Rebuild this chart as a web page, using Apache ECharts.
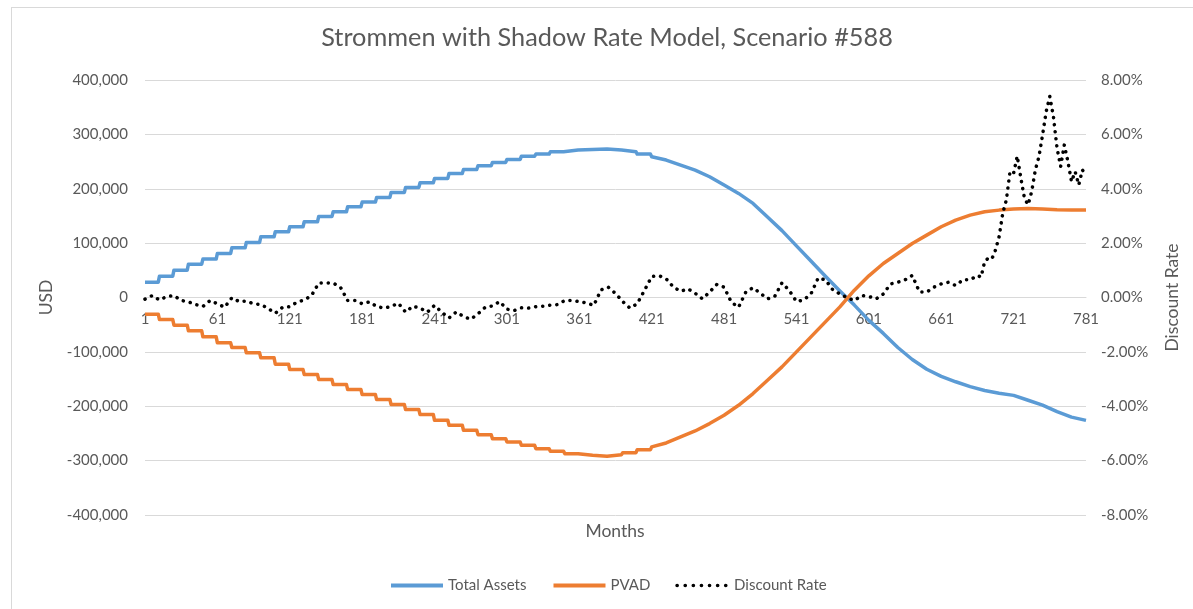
<!DOCTYPE html>
<html>
<head>
<meta charset="utf-8">
<title>Strommen with Shadow Rate Model, Scenario #588</title>
<script src="https://cdn.jsdelivr.net/npm/echarts@6/dist/echarts.min.js"></script>
<style>
  html, body { margin: 0; padding: 0; background: #fff; overflow: hidden; }
  #frame { position: absolute; left: 11px; top: 7px; width: 1300px; height: 700px;
           border-left: 1px solid #d9d9d9; border-top: 1px solid #d9d9d9; }
  #main { position: absolute; left: 0; top: 0; width: 1193px; height: 609px; }
</style>
</head>
<body>
<div id="frame"></div>
<div id="main"></div>
<script>
// month categories 1..781
var months = [];
for (var m = 1; m <= 781; m++) months.push(String(m));

// yearly levels while the contributions come in steps (months 12k+1 .. 12k+12)
var assetSteps = [28200, 39300, 50300, 61300, 70600, 81000, 91400, 101200, 111700, 120900,
  130100, 139300, 149100, 157700, 166900, 175500, 184000, 193300, 202500, 211000,
  219000, 228000, 235500, 242300, 248400, 253900, 260000, 263700, 268000, 271100,
  272300, 272900, 271100, 268000, 263700];
var pvadSteps = [-30700, -40500, -50900, -61300, -72400, -83400, -92000, -101800, -111000, -122700,
  -132500, -141700, -150900, -160100, -169300, -178500, -187700, -196900, -206100, -215300,
  -225800, -235000, -244200, -252200, -259600, -265700, -271800, -278000, -282900, -287200,
  -290200, -292100, -289000, -285300, -279800];

// from month 421 on, one reading every 12 months (421, 433, ... 781)
var assetTail = [258900, 252800, 243600, 234400, 222100, 206700, 191400, 173000, 148000, 123000,
  95000, 67000, 39000, 12000, -14000, -42000, -66000, -92000, -114000, -132000,
  -145000, -155000, -164000, -171000, -176000, -180000, -189000, -198000, -210000, -220000,
  -226000];
var pvadTail = [-274800, -267500, -256400, -245400, -231900, -216600, -198200, -176700, -152100, -127600,
  -100000, -72400, -44800, -17200, 13500, 39900, 62600, 81000, 99400, 114700,
  130100, 142300, 151500, 157700, 160700, 162600, 163800, 162600, 161300, 160700,
  160700];

// discount rate in %, months 1, 7, 13 ... 691
var rateEarly = [-0.06, 0.07, -0.09, 0.03, 0.07, -0.11, -0.16, -0.26, -0.33, -0.11,
  -0.23, -0.36, -0.01, -0.15, -0.13, -0.23, -0.26, -0.40, -0.58, -0.36,
  -0.34, -0.17, -0.09, 0.07, 0.53, 0.54, 0.53, 0.38, -0.11, -0.11,
  -0.23, -0.16, -0.33, -0.39, -0.33, -0.21, -0.54, -0.32, -0.39, -0.54,
  -0.29, -0.54, -0.75, -0.53, -0.70, -0.80, -0.60, -0.36, -0.31, -0.15,
  -0.43, -0.48, -0.38, -0.39, -0.34, -0.32, -0.28, -0.26, -0.11, -0.11,
  -0.15, -0.20, -0.29, 0.28, 0.38, 0.15, -0.15, -0.39, -0.23, 0.26,
  0.77, 0.80, 0.69, 0.38, 0.23, 0.32, 0.16, -0.05, 0.20, 0.48,
  0.38, -0.17, -0.36, 0.20, 0.36, 0.16, -0.05, 0.04, 0.54, 0.26,
  -0.15, -0.09, 0.13, 0.72, 0.65, 0.29, 0.13, -0.01, -0.11, 0.07,
  0.04, -0.05, 0.13, 0.50, 0.56, 0.65, 0.81, 0.20, 0.20, 0.38,
  0.50, 0.56, 0.44, 0.65, 0.65, 0.81];
// months 694, 697 ... 781 (the noisy end)
var rateLate = [0.75, 1.32, 1.45, 1.42, 1.75, 2.24, 3.10, 3.59, 4.63, 4.57,
  5.20, 4.39, 3.65, 3.41, 3.90, 4.69, 5.18, 5.98, 6.84, 7.39,
  6.65, 5.49, 4.82, 5.61, 5.00, 4.26, 4.63, 4.14, 4.69, 4.51];

// [category index, value]; index = month - 1
function stepped(steps, tail) {
  var pts = [];
  steps.forEach(function (v, k) {
    pts.push([12 * k, v], [12 * k + 11, v]);
  });
  tail.forEach(function (v, i) {
    pts.push([420 + 12 * i, v]);
  });
  return pts;
}

var ratePts = [];
rateEarly.forEach(function (v, i) { ratePts.push([6 * i, v]); });
rateLate.forEach(function (v, i) { ratePts.push([693 + 3 * i, v]); });

var grey = '#595959';
var font = 'Lato';

var myChart = echarts.init(document.getElementById('main'));

var option = {
  animation: false,
  textStyle: { fontFamily: font },
  title: [
    {
      text: 'Strommen with Shadow Rate Model, Scenario #588',
      left: 602,
      top: 20,
      textAlign: 'center',
      textStyle: { color: grey, fontSize: 25.3, fontWeight: 'normal', fontFamily: font }
    },
    {
      text: 'Months',
      left: 610,
      top: 517,
      textAlign: 'center',
      textStyle: { color: grey, fontSize: 17.5, fontWeight: 'normal', fontFamily: font }
    }
  ],
  legend: {
    left: 384,
    top: 573,
    itemWidth: 52,
    itemHeight: 14,
    itemGap: 25,
    itemStyle: { opacity: 0 },
    lineStyle: { width: 4 },
    textStyle: { color: grey, fontSize: 15, fontFamily: font },
    data: [
      'Total Assets',
      'PVAD',
      { name: 'Discount Rate', lineStyle: { width: 3.6, type: [0.1, 8] } }
    ]
  },
  grid: {
    left: 145,
    right: 107,
    top: 80,
    bottom: 94
  },
  xAxis: {
    type: 'category',
    data: months,
    boundaryGap: false,
    // axis sits on the zero line of the USD axis
    offset: -217.5,
    axisLine: { onZero: false, lineStyle: { color: '#d9d9d9', width: 1 } },
    axisTick: { show: false },
    axisLabel: { interval: 59, color: grey, fontSize: 15, margin: 14, fontFamily: font },
    splitLine: { show: false }
  },
  yAxis: [
    {
      type: 'value',
      min: -400000,
      max: 400000,
      interval: 100000,
      name: 'USD',
      nameLocation: 'middle',
      nameRotate: 90,
      nameGap: 90,
      nameTextStyle: { color: grey, fontSize: 17.5, fontFamily: font },
      axisLine: { show: false },
      axisTick: { show: false },
      axisLabel: {
        color: grey, fontSize: 15, margin: 17, fontFamily: font,
        formatter: function (v) { return v.toLocaleString('en-US'); }
      },
      splitLine: { lineStyle: { color: '#d9d9d9', width: 1 } }
    },
    {
      type: 'value',
      min: -8,
      max: 8,
      interval: 2,
      name: 'Discount Rate',
      nameLocation: 'middle',
      nameRotate: 90,
      nameGap: 77,
      nameTextStyle: { color: grey, fontSize: 17.5, fontFamily: font },
      axisLine: { show: false },
      axisTick: { show: false },
      axisLabel: {
        color: grey, fontSize: 15, margin: 15, fontFamily: font,
        formatter: function (v) { return v.toFixed(2) + '%'; }
      },
      splitLine: { show: false }
    }
  ],
  series: [
    {
      name: 'Total Assets',
      type: 'line',
      symbol: 'none',
      data: stepped(assetSteps, assetTail),
      itemStyle: { color: '#5b9bd5' },
      lineStyle: { color: '#5b9bd5', width: 3.5, join: 'round' }
    },
    {
      name: 'PVAD',
      type: 'line',
      symbol: 'none',
      data: stepped(pvadSteps, pvadTail),
      itemStyle: { color: '#ed7d31' },
      lineStyle: { color: '#ed7d31', width: 3.5, join: 'round' }
    },
    {
      name: 'Discount Rate',
      type: 'line',
      yAxisIndex: 1,
      symbol: 'none',
      data: ratePts,
      itemStyle: { color: '#000' },
      lineStyle: { color: '#000', width: 3.5, type: [0.1, 7], cap: 'round' }
    }
  ]
};

myChart.setOption(option);
</script>
</body>
</html>
